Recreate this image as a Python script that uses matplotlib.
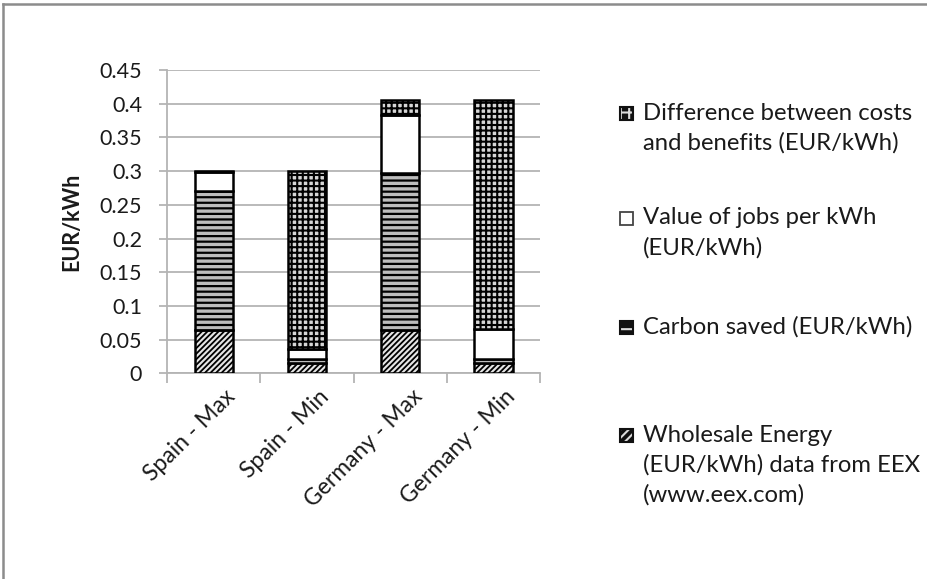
import matplotlib
matplotlib.use("Agg")
import matplotlib.pyplot as plt
import matplotlib.transforms as mtransforms
from matplotlib.patches import Rectangle
from matplotlib.lines import Line2D
import numpy as np

plt.rcParams['font.family'] = ['Lato', 'DejaVu Sans']
plt.rcParams['hatch.linewidth'] = 1.0

categories = ["Spain - Max", "Spain - Min", "Germany - Max", "Germany - Min"]
wholesale = [0.065, 0.016, 0.065, 0.016]
carbon = [0.205, 0.006, 0.233, 0.006]
jobs = [0.029, 0.015, 0.085, 0.044]
difference = [0.001, 0.263, 0.022, 0.339]

series_labels = [
    "Wholesale Energy\n(EUR/kWh) data from EEX\n(www.eex.com)",
    "Carbon saved (EUR/kWh)",
    "Value of jobs per kWh\n(EUR/kWh)",
    "Difference between costs\nand benefits (EUR/kWh)",
]
yticks = [0, 0.05, 0.1, 0.15, 0.2, 0.25, 0.3, 0.35, 0.4, 0.45]
ytick_labels = ["0", "0.05", "0.1", "0.15", "0.2", "0.25", "0.3", "0.35", "0.4", "0.45"]

series = [wholesale, carbon, jobs, difference]
styles = [
    dict(facecolor="#e6e6e6", hatch="//////", hlw=1.3),
    dict(facecolor="#bdbdbd", hatch="---", hlw=1.6),
    dict(facecolor="white", hatch=None, hlw=1.0),
    dict(facecolor="#d6d6d6", hatch="+++", hlw=1.5),
]

fig = plt.figure(figsize=(9.28, 5.79), dpi=100)
ax = fig.add_axes([0.180, 0.355, 0.402, 0.524])

x = np.arange(len(categories))
bottom = np.zeros(len(categories))
for vals, st in zip(series, styles):
    plt.rcParams['hatch.linewidth'] = st["hlw"]
    ax.bar(x, vals, width=0.41, bottom=bottom, color=st["facecolor"],
           hatch=st["hatch"], edgecolor="black", linewidth=1.8, zorder=3)
    bottom += np.array(vals)

ax.set_xlim(-0.5, 3.5)
ax.set_ylim(0, 0.45)
ax.set_yticks(yticks)
ax.set_yticklabels(ytick_labels)
ax.yaxis.grid(True, color="#b4b4b4", linewidth=1.3, zorder=0)
ax.set_axisbelow(True)

ax.set_xticks(x)
ax.set_xticklabels(categories, rotation=45, ha="right", rotation_mode="anchor")
ax.set_xticks(np.arange(-0.5, 4.0, 1.0), minor=True)
ax.tick_params(axis="x", which="major", length=0, pad=9, labelsize=16.5, labelcolor="#1a1a1a")
ax.tick_params(axis="x", which="minor", length=7, width=1.3, color="#b4b4b4", direction="out")
ax.tick_params(axis="y", length=6, width=1.3, color="#b4b4b4", pad=12, labelsize=15.5, labelcolor="#1a1a1a")
shift = mtransforms.ScaledTranslation(8 / 72, 0, fig.dpi_scale_trans)
for lbl in ax.get_xticklabels():
    lbl.set_transform(lbl.get_transform() + shift)

for s in ["top", "right"]:
    ax.spines[s].set_visible(False)
for s in ["left", "bottom"]:
    ax.spines[s].set_color("#b4b4b4")
    ax.spines[s].set_linewidth(1.3)

ax.set_ylabel("EUR/kWh", fontsize=15.5, fontweight="bold", color="#1a1a1a", labelpad=12)

# Legend (manual, Excel-like)
W, H = 928.0, 579.0
leg_entries = [
    (series_labels[3], 113, "diff"),
    (series_labels[2], 218, "jobs"),
    (series_labels[1], 327, "carbon"),
    (series_labels[0], 435, "whole"),
]
plt.rcParams['hatch.linewidth'] = 1.5
for label, ytop, kind in leg_entries:
    lines = label.split("\n")
    for i, ln in enumerate(lines):
        fig.text(643 / W, 1 - (ytop + 30 * i) / H, ln, fontsize=17.2, color="#1a1a1a",
                 ha="left", va="center")
    mx, my, ms = 620, ytop - 6, 13
    rect_xy = (mx / W, 1 - (my + ms) / H)
    rw, rh = ms / W, ms / H
    if kind == "jobs":
        fig.patches.append(Rectangle(rect_xy, rw, rh, transform=fig.transFigure,
                                     facecolor="white", edgecolor="#444444", linewidth=1.3))
    else:
        hatch = {"diff": "++", "carbon": "--", "whole": "////"}[kind]
        fig.patches.append(Rectangle(rect_xy, rw, rh, transform=fig.transFigure,
                                     facecolor="#111111", edgecolor="none", linewidth=0))
        fig.patches.append(Rectangle(rect_xy, rw, rh, transform=fig.transFigure,
                                     facecolor="none", edgecolor="#dddddd", hatch=hatch, linewidth=0))
        fig.patches.append(Rectangle(rect_xy, rw, rh, transform=fig.transFigure,
                                     facecolor="none", edgecolor="#111111", linewidth=1.5))

# Outer chart-area border (top and left visible)
fig.add_artist(Line2D([3 / W, 3 / W], [0, 1 - 4 / H], transform=fig.transFigure, color="#8c8c8c", linewidth=1.8))
fig.add_artist(Line2D([3 / W, 1], [1 - 4 / H, 1 - 4 / H], transform=fig.transFigure, color="#8c8c8c", linewidth=1.8))

fig.savefig("out.png", dpi=100)
